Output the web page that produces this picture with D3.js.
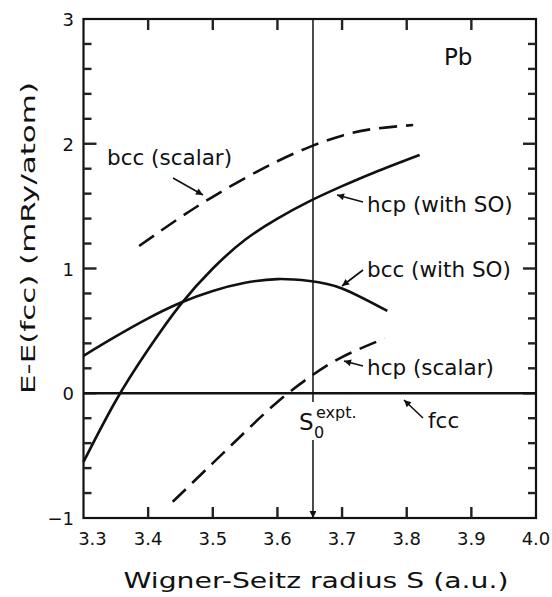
<!DOCTYPE html>
<html>
<head>
<meta charset="utf-8">
<script src="https://cdn.jsdelivr.net/npm/d3@7"></script>
<style>
  html, body { margin: 0; padding: 0; background: #fff; }
  svg { display: block; }
  text { font-family: "DejaVu Sans", sans-serif; fill: #111; }
</style>
</head>
<body>
<div id="chart"></div>
<script>
// Pb: energy relative to fcc vs Wigner-Seitz radius
const hcpSO = [
  [3.30, -0.55], [3.35, -0.06], [3.40, 0.35], [3.45, 0.71], [3.50, 1.00],
  [3.55, 1.23], [3.60, 1.40], [3.65, 1.54], [3.70, 1.66], [3.75, 1.77],
  [3.82, 1.91]
];
const bccSO = [
  [3.30, 0.30], [3.35, 0.455], [3.40, 0.60], [3.45, 0.725], [3.50, 0.82],
  [3.55, 0.885], [3.60, 0.915], [3.65, 0.90], [3.70, 0.84], [3.77, 0.66]
];
const bccScalar = [
  [3.386, 1.18], [3.45, 1.41], [3.50, 1.575], [3.55, 1.725], [3.60, 1.86],
  [3.65, 1.975], [3.70, 2.065], [3.75, 2.12], [3.81, 2.15]
];
const hcpScalar = [
  [3.438, -0.87], [3.50, -0.56], [3.55, -0.31], [3.60, -0.07],
  [3.65, 0.13], [3.70, 0.29], [3.766, 0.44]
];
const fcc = [[3.3, 0], [4.0, 0]];
const s0 = 3.655;

const xTicks = [3.3, 3.4, 3.5, 3.6, 3.7, 3.8, 3.9, 4.0];
const xInner = [3.4, 3.5, 3.6, 3.7, 3.8, 3.9];
const yTicks = [-1, 0, 1, 2, 3];
const yMinor = [-0.8, -0.6, -0.4, -0.2, 0, 0.2, 0.4, 0.6, 0.8, 1, 1.2, 1.4, 1.6, 1.8, 2, 2.2, 2.4, 2.6, 2.8];

const width = 552, height = 597;
const x = d3.scaleLinear().domain([3.3, 4.0]).range([83.5, 536]);
const y = d3.scaleLinear().domain([-1, 3]).range([518, 19]);

const svg = d3.select("#chart").append("svg")
  .attr("width", width).attr("height", height);

svg.append("defs").append("marker")
  .attr("id", "arr").attr("viewBox", "0 0 10 10")
  .attr("refX", 10).attr("refY", 5)
  .attr("markerWidth", 10).attr("markerHeight", 7)
  .attr("markerUnits", "userSpaceOnUse")
  .attr("orient", "auto")
  .append("path").attr("d", "M0,0L10,5L0,10z").attr("fill", "#111");

// frame
svg.append("rect")
  .attr("x", x(3.3)).attr("y", y(3))
  .attr("width", x(4.0) - x(3.3)).attr("height", y(-1) - y(3))
  .attr("fill", "none").attr("stroke", "#111").attr("stroke-width", 2.2);

// ticks, pointing inward on all four sides
const tickLen = d => Math.abs(d - Math.round(d)) < 1e-6 ? 13 : 8;
const tg = svg.append("g").attr("fill", "#222");
tg.selectAll(".xb").data(xInner).join("rect").attr("class", "xb")
  .attr("x", d => x(d) - 1.2).attr("y", y(-1) - 11)
  .attr("width", 2.4).attr("height", 11);
tg.selectAll(".xt").data(xInner).join("rect").attr("class", "xt")
  .attr("x", d => x(d) - 1.2).attr("y", y(3))
  .attr("width", 2.4).attr("height", 11);
tg.selectAll(".yl").data(yMinor).join("rect").attr("class", "yl")
  .attr("x", x(3.3)).attr("y", d => y(d) - 1.2)
  .attr("width", tickLen).attr("height", 2.4);
tg.selectAll(".yr").data(yMinor).join("rect").attr("class", "yr")
  .attr("x", d => x(4.0) - tickLen(d)).attr("y", d => y(d) - 1.2)
  .attr("width", tickLen).attr("height", 2.4);

// tick labels
svg.append("g").selectAll("text").data(xTicks).join("text")
  .attr("x", d => d === 3.3 ? x(d) + 9 : x(d))
  .attr("y", 545)
  .attr("text-anchor", "middle").attr("font-size", 18)
  .text(d => d.toFixed(1));
svg.append("g").selectAll("text").data(yTicks).join("text")
  .attr("x", 74).attr("y", d => y(d) + 7)
  .attr("text-anchor", "end").attr("font-size", 18)
  .text(d => d < 0 ? "\u2212" + Math.abs(d) : d);

// axis titles
svg.append("text")
  .attr("x", 316).attr("y", 588)
  .attr("text-anchor", "middle").attr("font-size", 21)
  .attr("textLength", 385).attr("lengthAdjust", "spacingAndGlyphs")
  .text("Wigner-Seitz radius S (a.u.)");
svg.append("text")
  .attr("transform", "translate(35,238) rotate(-90)")
  .attr("text-anchor", "middle").attr("font-size", 20)
  .attr("textLength", 312).attr("lengthAdjust", "spacingAndGlyphs")
  .text("E-E(fcc) (mRy/atom)");

// curves
const line = d3.line().x(d => x(d[0])).y(d => y(d[1])).curve(d3.curveNatural);
const curves = [
  { data: fcc, dash: null },
  { data: hcpSO, dash: null },
  { data: bccSO, dash: null },
  { data: bccScalar, dash: "18,9" },
  { data: hcpScalar, dash: "18,9" }
];
svg.append("g").selectAll("path").data(curves).join("path")
  .attr("d", d => line(d.data))
  .attr("fill", "none").attr("stroke", "#111").attr("stroke-width", 2.6)
  .attr("stroke-dasharray", d => d.dash);

// experimental S0 line
svg.append("line")
  .attr("x1", x(s0)).attr("x2", x(s0)).attr("y1", y(3)).attr("y2", 402)
  .attr("stroke", "#111").attr("stroke-width", 1.5);
svg.append("line")
  .attr("x1", x(s0)).attr("x2", x(s0)).attr("y1", 440).attr("y2", y(-1))
  .attr("stroke", "#111").attr("stroke-width", 1.5)
  .attr("marker-end", "url(#arr)");

const s0lab = svg.append("g");
s0lab.append("text").attr("x", 299).attr("y", 430).attr("font-size", 23).text("S");
s0lab.append("text").attr("x", 314).attr("y", 438).attr("font-size", 16).text("0");
s0lab.append("text").attr("x", 316).attr("y", 418).attr("font-size", 16).text("expt.");

// labels and pointer arrows
const labels = [
  { t: "Pb", x: 444, y: 65, size: 23 },
  { t: "bcc (scalar)", x: 107, y: 165, size: 21.5, a: [173, 178, 203, 195] },
  { t: "hcp (with SO)", x: 367, y: 212, size: 21.5, a: [363, 202, 337, 195] },
  { t: "bcc (with SO)", x: 367, y: 277, size: 21.5, a: [363, 270, 342, 286] },
  { t: "hcp (scalar)", x: 367, y: 375, size: 21.5, a: [363, 366, 344, 361] },
  { t: "fcc", x: 428, y: 428, size: 21.5, a: [423, 418, 404, 400] }
];
const lg = svg.append("g");
labels.forEach(l => {
  lg.append("text").attr("x", l.x).attr("y", l.y).attr("font-size", l.size).text(l.t);
  if (l.a) {
    lg.append("line")
      .attr("x1", l.a[0]).attr("y1", l.a[1]).attr("x2", l.a[2]).attr("y2", l.a[3])
      .attr("stroke", "#111").attr("stroke-width", 1.6)
      .attr("marker-end", "url(#arr)");
  }
});
</script>
</body>
</html>
